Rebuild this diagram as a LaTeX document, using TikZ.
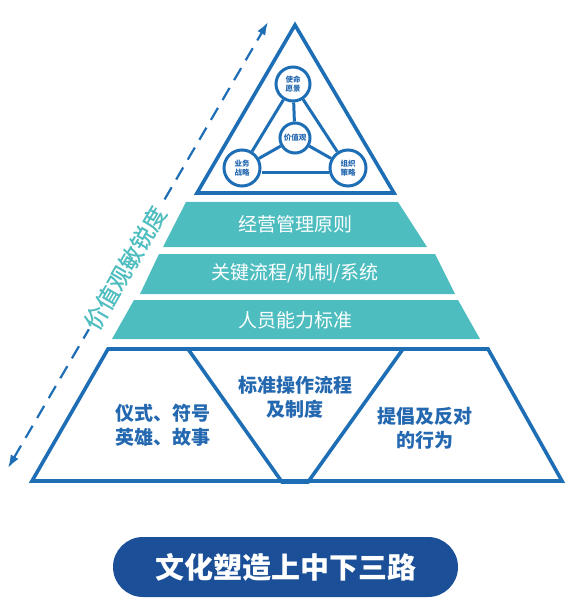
\documentclass[tikz,border=0pt]{standalone}
\usepackage{fontspec}
\newfontfamily\cjk{Noto Sans CJK SC}
\newfontfamily\cjkm[FakeBold=0.6]{Noto Sans CJK SC}
\usetikzlibrary{arrows.meta,backgrounds}
\definecolor{pblue}{HTML}{1E6EB6}
\definecolor{pteal}{HTML}{4EBDC0}
\definecolor{ptext}{HTML}{2468B0}
\definecolor{pbtn}{HTML}{1B4F97}
\begin{document}
\begin{tikzpicture}[x=1pt,y=-1pt,
  edge/.style={draw=pblue,line width=3.6pt,line join=miter},
  link/.style={draw=pblue,line width=3pt},
  band/.style={fill=pteal},
  bandtext/.style={text=white,font=\cjk\fontsize{19}{22}\selectfont},
  blocktext/.style={text=ptext,font=\cjk\bfseries\fontsize{19}{24}\selectfont,align=center},
  bubble/.style={circle,draw=pblue,line width=3pt,fill=white,inner sep=0pt,text=ptext,font=\cjk\bfseries\fontsize{7.5}{8.5}\selectfont,align=center}]
\useasboundingbox (0,0) rectangle (569,609);
% dashed arrow
\coordinate (arrT) at (268,22);
\coordinate (arrB) at (8,468);
\draw[pblue,line width=2.2pt,dash pattern=on 14pt off 9pt,{Latex[length=13pt,width=9pt]}-{Latex[length=13pt,width=9pt]}] (arrB) -- (arrT);
\node[fill=white,inner sep=2pt,rotate=59.7,text=pteal,font=\cjkm\fontsize{23}{26}\selectfont] (sens) at (125,268) {价值观敏锐度};
% top triangle
\coordinate (apex) at (295,25);
\coordinate (tl) at (197,193);
\coordinate (tr) at (394,193);
\draw[edge] (apex) -- (tr) -- (tl) -- cycle;
% bubbles
\node[bubble,minimum size=34pt] (mv) at (293,84) {使命\\愿景};
\node[bubble,minimum size=30pt] (val) at (295,138) {价值观};
\node[bubble,minimum size=36pt] (bs) at (242,168) {业务\\战略};
\node[bubble,minimum size=36pt] (os) at (348,168) {组织\\策略};
\begin{scope}[on background layer]
\draw[link] (mv) -- (bs);
\draw[link] (mv) -- (os);
\draw[link] (bs.east) ++(0,5) coordinate (bsr) -- (bsr -| os.west);
\draw[link] (mv) -- (val);
\draw[link] (val) -- (bs);
\draw[link] (val) -- (os);
\end{scope}
% bands
\fill[band] (186,202) -- (398,202) -- (427,247) -- (163,247) -- cycle;
\fill[band] (159,254) -- (435,254) -- (455,294) -- (140,294) -- cycle;
\fill[band] (134,300) -- (458,300) -- (480,339) -- (112,339) -- cycle;
\node[bandtext] (b1) at (295,224) {经营管理原则};
\node[bandtext] (b2) at (295,273) {关键流程/机制/系统};
\node[bandtext] (b3) at (295,320) {人员能力标准};
% bottom trapezoid
\draw[edge] (108,349) -- (488,349) -- (562,481) -- (32,481) -- cycle;
\draw[edge] (188,349) -- (282,482) -- (308,482) -- (403,349);
\node[blocktext] (ritual) at (163,425) {仪式、符号\\英雄、故事};
\node[blocktext] (sop) at (295,397) {标准操作流程\\及制度};
\node[blocktext] (beh) at (425,428) {提倡及反对\\的行为};
% button
\node[fill=pbtn,rounded corners=30pt,minimum width=345pt,minimum height=60pt,text=white,font=\cjk\bfseries\fontsize{29}{32}\selectfont] (btn) at (285.5,567) {文化塑造上中下三路};
\end{tikzpicture}
\end{document}
